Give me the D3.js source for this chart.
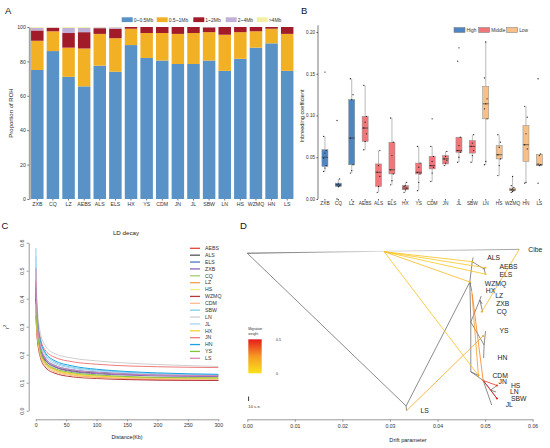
<!DOCTYPE html>
<html>
<head>
<meta charset="utf-8">
<title>ROH, inbreeding, LD decay and TreeMix</title>
<script src="https://d3js.org/d3.v7.min.js"></script>
<style>
  body { margin: 0; background: #fff; }
  svg { font-family: "Liberation Sans", Arial, sans-serif; }
</style>
</head>
<body>
<script>
// ---------- data ----------
var pops = ["ZXB","CQ","LZ","AEBS","ALS","ELS","HX","YS","CDM","JN","JL","SBW","LN","HS","WZMQ","HN","LS"];

// A: proportion of ROH by length class (%)
var rohKeys = ["0~0.5Mb","0.5~1Mb","1~2Mb","2~4Mb",">4Mb"];
var roh05  = [75,86,71,65.5,77.5,74,89.5,82,80.5,78.5,78.5,80.5,74.5,81.5,88,90.5,74.5];
var roh1   = [17,11.5,17,22,18.5,19.5,9.5,14.5,16,17.5,18,16.5,21,15.5,9.5,8.5,21.5];
var roh2   = [6,2,8.5,9.5,3.3,5.5,1,3.5,3.5,4,3.5,2.8,4.5,3,2.5,1,4];
var roh4   = [1.5,0.3,3,2.5,0.5,0.8,0,0,0,0,0,0.2,0,0,0,0,0];
var rohBig = [0.5,0.2,0.5,0.5,0.2,0.2,0,0,0,0,0,0,0,0,0,0,0];
var rohTicks = [0,20,40,60,80,100];

// B: inbreeding coefficient, box stats [min, q1, median, q3, max]
var fGroup = ["High","High","High","Middle","Middle","Middle","Middle","Middle","Middle","Middle","Middle","Middle","Low","Low","Low","Low","Low"];
var fStats = [
  [0.033,0.039,0.050,0.059,0.075],[0.013,0.015,0.017,0.019,0.024],[0.031,0.041,0.073,0.119,0.144],
  [0.059,0.069,0.085,0.099,0.136],[0.008,0.015,0.032,0.042,0.058],[0.017,0.030,0.035,0.068,0.097],
  [0.008,0.011,0.013,0.016,0.020],[0.010,0.030,0.032,0.043,0.063],[0.021,0.036,0.040,0.051,0.063],
  [0.040,0.042,0.048,0.052,0.057],[0.044,0.056,0.058,0.074,0.074],[0.044,0.055,0.063,0.070,0.077],
  [0.041,0.096,0.114,0.135,0.188],[0.028,0.048,0.053,0.064,0.077],[0.008,0.010,0.011,0.013,0.027],
  [0.019,0.045,0.065,0.088,0.111],[0.039,0.040,0.041,0.053,0.054]
];
var fPoints = [
  [0.033,0.037,0.040,0.049,0.055,0.058,0.075,0.152],[0.000,0.015,0.016,0.017,0.018,0.024,0.094],
  [0.031,0.034,0.041,0.073,0.119,0.125,0.144],[0.059,0.069,0.078,0.085,0.092,0.099,0.136],
  [0.008,0.015,0.027,0.032,0.040,0.058],[0.017,0.022,0.030,0.035,0.052,0.068,0.097],
  [0.008,0.011,0.013,0.015,0.016,0.020],[0.010,0.020,0.030,0.032,0.038,0.043,0.063],
  [0.021,0.031,0.038,0.040,0.045,0.051,0.063,0.096],[0.040,0.043,0.046,0.048,0.051,0.057],
  [0.044,0.050,0.056,0.058,0.064,0.074,0.165,0.181],[0.044,0.052,0.058,0.063,0.067,0.077],
  [0.041,0.045,0.096,0.108,0.114,0.120,0.145,0.188],[0.028,0.040,0.048,0.053,0.062,0.068,0.077],
  [0.008,0.009,0.010,0.011,0.012,0.014,0.016,0.027],[0.019,0.020,0.060,0.065,0.078,0.098,0.111],
  [0.019,0.040,0.041,0.042,0.052,0.054,0.144]
];
var fTicks = [0,0.05,0.10,0.15,0.20];
var fLevels = ["High","Middle","Low"];

// C: LD decay (r2 read at each distance)
var ldPops = ["AEBS","ALS","ELS","ZXB","CQ","LZ","HS","WZMQ","CDM","SBW","LN","JL","HX","JN","HN","YS","LS"];
var ldColors = ["#e8443a","#555555","#4c79c0","#8b62be","#a6d06c","#f6a24e","#f2ec7e","#b5383a","#f6be86","#7dd0e6","#cfcfcf","#a8d2f2","#f6cf3a","#f07c7c","#1ba3e0","#86c440","#d58bb8"];
var ldDist = [0.3,1,2,4,8,15,30,60,100,150,200,300];
var ldR2 = [
  [0.42,0.36,0.31,0.26,0.21,0.175,0.148,0.130,0.120,0.114,0.111,0.108],
  [0.40,0.35,0.31,0.26,0.215,0.182,0.158,0.142,0.135,0.130,0.128,0.125],
  [0.45,0.38,0.33,0.275,0.225,0.19,0.163,0.146,0.138,0.132,0.129,0.126],
  [0.47,0.39,0.33,0.27,0.22,0.185,0.158,0.140,0.132,0.127,0.124,0.122],
  [0.38,0.34,0.30,0.25,0.205,0.172,0.148,0.132,0.124,0.119,0.117,0.115],
  [0.36,0.33,0.29,0.245,0.20,0.168,0.145,0.129,0.122,0.118,0.116,0.115],
  [0.38,0.34,0.30,0.25,0.203,0.17,0.146,0.130,0.122,0.118,0.116,0.115],
  [0.34,0.31,0.27,0.23,0.188,0.157,0.135,0.121,0.115,0.111,0.109,0.108],
  [0.35,0.32,0.28,0.24,0.195,0.163,0.14,0.125,0.118,0.115,0.113,0.112],
  [0.58,0.45,0.37,0.30,0.245,0.205,0.175,0.155,0.145,0.137,0.132,0.128],
  [0.50,0.45,0.39,0.33,0.275,0.235,0.205,0.188,0.178,0.170,0.165,0.158],
  [0.55,0.44,0.36,0.295,0.24,0.20,0.17,0.152,0.142,0.135,0.130,0.127],
  [0.37,0.335,0.30,0.25,0.205,0.172,0.148,0.132,0.124,0.120,0.118,0.117],
  [0.46,0.41,0.36,0.305,0.255,0.218,0.192,0.175,0.166,0.160,0.157,0.154],
  [0.44,0.40,0.355,0.30,0.25,0.21,0.18,0.16,0.148,0.140,0.135,0.130],
  [0.39,0.35,0.31,0.26,0.21,0.176,0.152,0.136,0.128,0.122,0.119,0.117],
  [0.51,0.42,0.35,0.285,0.23,0.192,0.163,0.146,0.137,0.131,0.128,0.125]
];
var ldXTicks = [0,50,100,150,200,250,300];
var ldYTicks = [0,0.1,0.2,0.3,0.4,0.5,0.6];

// D: TreeMix tree (drift, vertical position 0-100)
var treeNames = ["root","Cibe","N1","LS","N2","A1","ALS","A2","AEBS","ELS","WZMQ","HX","T3","T4","LZ","ZXB","CQ","T5","YS","HN","N3","CDM","N4","JN","N5","HS","LN","SBW","JL"];
var treeDrift = [0,0.0572,0.0334,0.0335,0.0468,0.0473,0.0475,0.0498,0.0501,0.0501,0.0470,0.0472,0.0470,0.0489,0.0492,0.0494,0.0495,0.0498,0.0501,0.0497,0.0470,0.0486,0.0496,0.0499,0.0512,0.0525,0.0523,0.0525,0.0514];
var treePos = [2.6,0.2,96.6,99.5,20.3,7.8,5.2,12.3,11.1,15.7,21.5,25.8,44.9,31.4,28.9,33.8,38.8,59.1,50.5,67.1,75.5,77.8,80.9,81.5,86.8,84.0,88.0,92.0,96.0];
var treeEdges = [["root","N1"],["N1","LS"],["N1","N2"],["N2","A1"],["A1","ALS"],["A1","A2"],["A2","AEBS"],["A2","ELS"],
  ["N2","WZMQ"],["N2","HX"],["N2","T3"],["T3","T4"],["T4","LZ"],["T4","ZXB"],["T4","CQ"],["T3","T5"],["T5","YS"],["T5","HN"],
  ["T3","N3"],["N3","CDM"],["N3","N4"],["N4","JN"],["N4","N5"],["N5","HS"],["N5","LN"],["N5","SBW"],["N4","JL"]];
var treeLeaves = ["Cibe","ALS","AEBS","ELS","WZMQ","HX","LZ","ZXB","CQ","YS","HN","CDM","JN","HS","LN","SBW","JL","LS"];
var migFromDrift = [0.0288,0.0288,0.0288,0.0288,0.0288,0.0572,0.0335,0.0472,0.0473,0.0496,0.0496];
var migFromPos   = [1.7,1.7,1.7,1.7,1.7,0.2,99.5,25.8,27.5,80.9,80.9];
var migToDrift   = [0.0473,0.0501,0.0501,0.0468,0.0486,0.0493,0.0496,0.0486,0.0496,0.0525,0.0525];
var migToPos     = [7.8,11.5,15.5,20.3,77.8,38.6,53.5,77.8,80.9,84.0,92.0];
var migWeight    = [0.12,0.10,0.10,0.15,0.12,0.15,0.22,0.25,0.30,0.45,0.50];
var driftTicks = [0,0.01,0.02,0.03,0.04,0.05,0.06];

// ---------- drawing ----------
var svg = d3.select("body").append("svg").attr("width", 550).attr("height", 448);
svg.append("rect").attr("width", 550).attr("height", 448).attr("fill", "#fff");

function letter(t, x, y) {
  svg.append("text").attr("x", x).attr("y", y).attr("font-size", 9.5).attr("fill", "#111").text(t);
}
function vlabel(g, t, x, y, fs) {
  return g.append("text").attr("transform", "translate(" + [x, y] + ") rotate(-90)")
    .attr("text-anchor", "middle").attr("font-size", fs).attr("fill", "#222").text(t);
}

// ===== A =====
letter("A", 5, 13.5);
var gA = svg.append("g");
var xA = d3.scaleBand(pops, [29.5, 295]).paddingInner(0.2).paddingOuter(0.1);
var yA = d3.scaleLinear([0, 100], [199, 27]);
var rohColors = d3.scaleOrdinal(rohKeys, ["#5892c6","#f2b125","#a11b29","#c0b1d9","#f4f0a2"]);
var rohRows = pops.map(function(p, i) {
  return {pop: p, "0~0.5Mb": roh05[i], "0.5~1Mb": roh1[i], "1~2Mb": roh2[i], "2~4Mb": roh4[i], ">4Mb": rohBig[i]};
});
var stackA = d3.stack().keys(rohKeys)(rohRows);

gA.selectAll("g.layer").data(stackA).join("g").attr("class", "layer")
  .attr("fill", function(d) { return rohColors(d.key); })
  .selectAll("rect").data(function(d) { return d; }).join("rect")
  .attr("x", function(d) { return xA(d.data.pop); })
  .attr("width", xA.bandwidth())
  .attr("y", function(d) { return yA(d[1]); })
  .attr("height", function(d) { return yA(d[0]) - yA(d[1]); });

var axA = gA.append("g").attr("transform", "translate(29.3,0)")
  .call(d3.axisLeft(yA).tickValues(rohTicks).tickSize(2).tickSizeOuter(0).tickPadding(1.5));
axA.select(".domain").attr("stroke", "#a3a3a3").attr("stroke-width", 2);
axA.selectAll(".tick line").attr("stroke", "#777");
axA.selectAll("text").attr("font-size", 5.2).attr("fill", "#333");

var axAx = gA.append("g").attr("transform", "translate(0,199)")
  .call(d3.axisBottom(xA).tickSize(1.5).tickPadding(1.5));
axAx.select(".domain").remove();
axAx.selectAll(".tick line").attr("stroke", "#777");
axAx.selectAll("text").attr("font-size", 5.2).attr("fill", "#333");
vlabel(gA, "Proportion of ROH", 12.5, 113, 6);

var legA = gA.append("g");
var legAx = [121.7, 156.7, 193.3, 225.7, 256.7];
rohKeys.forEach(function(k, i) {
  legA.append("rect").attr("x", legAx[i]).attr("y", 17.3).attr("width", 11).attr("height", 4.8).attr("fill", rohColors(k));
  legA.append("text").attr("x", legAx[i] + 12).attr("y", 21.6).attr("font-size", 5).attr("fill", "#333").text(k);
});

// ===== B =====
letter("B", 301, 13.5);
var gB = svg.append("g");
var xB = d3.scaleBand(pops, [318.3, 546]).paddingInner(0.55).paddingOuter(0.27);
var yB = d3.scaleLinear([0, 0.2], [199, 32]);
var fColor = d3.scaleOrdinal(fLevels, ["#4e86c3", "#f07679", "#f8c089"]);

var axB = gB.append("g").attr("transform", "translate(318,0)")
  .call(d3.axisLeft(yB).tickValues(fTicks).tickFormat(d3.format(".2f")).tickSize(1.5).tickSizeOuter(0).tickPadding(1.5));
axB.select(".domain").attr("d", "M0," + yB(0.208) + "V" + yB(0)).attr("stroke", "#555").attr("stroke-width", 0.8);
axB.selectAll(".tick line").attr("stroke", "#555");
axB.selectAll("text").attr("font-size", 4.6).attr("fill", "#333");
var axBx = gB.append("g").attr("transform", "translate(0,199)")
  .call(d3.axisBottom(xB).tickSize(1.5).tickPadding(1.5));
axBx.select(".domain").remove();
axBx.selectAll(".tick line").attr("stroke", "#555");
axBx.selectAll("text").attr("font-size", 4.8).attr("fill", "#333");
vlabel(gB, "Inbreeding coefficient", 303.5, 116, 5.6);

var boxes = gB.selectAll("g.box").data(pops).join("g").attr("class", "box");
boxes.append("line")
  .attr("x1", function(d) { return xB(d) + xB.bandwidth() / 2; })
  .attr("x2", function(d) { return xB(d) + xB.bandwidth() / 2; })
  .attr("y1", function(d, i) { return yB(fStats[i][4]); })
  .attr("y2", function(d, i) { return yB(fStats[i][0]); })
  .attr("stroke", "#8a8a8a").attr("stroke-width", 0.6);
boxes.append("rect")
  .attr("x", function(d) { return xB(d); })
  .attr("width", xB.bandwidth())
  .attr("y", function(d, i) { return yB(fStats[i][3]); })
  .attr("height", function(d, i) { return Math.max(0.5, yB(fStats[i][1]) - yB(fStats[i][3])); })
  .attr("fill", function(d, i) { return fColor(fGroup[i]); })
  .attr("stroke", "#8a8a8a").attr("stroke-width", 0.5);
boxes.append("line")
  .attr("x1", function(d) { return xB(d); })
  .attr("x2", function(d) { return xB(d) + xB.bandwidth(); })
  .attr("y1", function(d, i) { return yB(fStats[i][2]); })
  .attr("y2", function(d, i) { return yB(fStats[i][2]); })
  .attr("stroke", "#333").attr("stroke-width", 0.7);
boxes.each(function(p, i) {
  d3.select(this).selectAll("circle").data(fPoints[i]).join("circle")
    .attr("cx", function(v, j) { return xB(p) + xB.bandwidth() / 2 + ((j % 3) - 1) * 1.3; })
    .attr("cy", function(v) { return yB(v); })
    .attr("r", 0.65).attr("fill", "#222");
});

var legBx = [454, 478.7, 506.7];
fLevels.forEach(function(k, i) {
  gB.append("rect").attr("x", legBx[i]).attr("y", 27.5).attr("width", 11).attr("height", 5)
    .attr("fill", fColor(k)).attr("stroke", "#777").attr("stroke-width", 0.5);
  gB.append("text").attr("x", legBx[i] + 12.5).attr("y", 31.7).attr("font-size", 4.8).attr("fill", "#333").text(k);
});

// ===== C =====
letter("C", 1.5, 228.5);
var gC = svg.append("g");
var xC = d3.scaleLinear([0, 300], [35.7, 218.3]);
var yC = d3.scaleLinear([0, 0.6], [410.7, 242.7]);

var axCy = gC.append("g").attr("transform", "translate(28.7,0)")
  .call(d3.axisLeft(yC).tickValues(ldYTicks).tickFormat(d3.format(".1f")).tickSize(2).tickSizeOuter(0));
axCy.select(".domain").attr("stroke", "#999").attr("stroke-width", 1);
axCy.selectAll(".tick line").attr("stroke", "#999");
// R style: y tick labels run parallel to the axis
axCy.selectAll(".tick text").attr("font-size", 5.2).attr("fill", "#333")
  .attr("x", 0).attr("dy", 0).attr("text-anchor", "middle")
  .attr("transform", "translate(-5,0) rotate(-90)");

var axCx = gC.append("g").attr("transform", "translate(0,419.3)")
  .call(d3.axisBottom(xC).tickValues(ldXTicks).tickSize(2).tickSizeOuter(0).tickPadding(2));
axCx.select(".domain").attr("stroke", "#999").attr("stroke-width", 1);
axCx.selectAll(".tick line").attr("stroke", "#999");
axCx.selectAll("text").attr("font-size", 5.2).attr("fill", "#333");

gC.append("text").attr("x", 126).attr("y", 235).attr("text-anchor", "middle").attr("font-size", 6.2).attr("fill", "#222").text("LD decay");
gC.append("text").attr("x", 127).attr("y", 438.5).attr("text-anchor", "middle").attr("font-size", 5.4).attr("fill", "#222").text("Distance(Kb)");
var r2lab = gC.append("text").attr("transform", "translate(8.5,327) rotate(-90)").attr("text-anchor", "middle")
  .attr("font-size", 6).attr("fill", "#222").text("r");
r2lab.append("tspan").attr("font-size", 4).attr("dy", -2.2).text("2");

var ldLine = d3.line()
  .x(function(d, i) { return xC(ldDist[i]); })
  .y(function(d) { return yC(d); })
  .curve(d3.curveMonotoneX);
gC.selectAll("path.ld").data(ldR2).join("path").attr("class", "ld")
  .attr("d", ldLine).attr("fill", "none")
  .attr("stroke", function(d, i) { return ldColors[i]; })
  .attr("stroke-width", 1);

var legC = gC.append("g");
ldPops.forEach(function(p, i) {
  var y = 248.3 + i * 6.875;
  legC.append("line").attr("x1", 190).attr("x2", 200).attr("y1", y).attr("y2", y)
    .attr("stroke", ldColors[i]).attr("stroke-width", 1.3);
  legC.append("text").attr("x", 205).attr("y", y + 1.8).attr("font-size", 5.2).attr("fill", "#333").text(p);
});

// ===== D =====
letter("D", 240, 228.5);
var gD = svg.append("g");
var xD = d3.scaleLinear([0, 0.06], [247.3, 532.6]);
var yD = d3.scaleLinear([0, 100], [249, 411.5]);
var migColor = d3.scaleLinear([0, 0.25, 0.5], ["#f9e21b", "#f59b24", "#e51b1c"]);
var idx = {};
treeNames.forEach(function(n, i) { idx[n] = i; });
function nx(n) { return xD(treeDrift[idx[n]]); }
function ny(n) { return yD(treePos[idx[n]]); }

var defs = svg.append("defs");
var gr = defs.append("linearGradient").attr("id", "rootCibe").attr("gradientUnits", "userSpaceOnUse")
  .attr("x1", nx("root")).attr("x2", nx("Cibe")).attr("y1", 0).attr("y2", 0);
gr.append("stop").attr("offset", 0).attr("stop-color", "#333");
gr.append("stop").attr("offset", 0.5).attr("stop-color", "#d8d8d8");
gr.append("stop").attr("offset", 1).attr("stop-color", "#888");
var gw = defs.append("linearGradient").attr("id", "migScale").attr("x1", 0).attr("x2", 0).attr("y1", 0).attr("y2", 1);
gw.append("stop").attr("offset", 0).attr("stop-color", migColor(0.5));
gw.append("stop").attr("offset", 0.5).attr("stop-color", migColor(0.25));
gw.append("stop").attr("offset", 1).attr("stop-color", migColor(0));

gD.append("line").attr("x1", nx("root")).attr("y1", ny("root")).attr("x2", nx("Cibe")).attr("y2", ny("Cibe"))
  .attr("stroke", "url(#rootCibe)").attr("stroke-width", 0.8);
gD.selectAll("line.edge").data(treeEdges).join("line").attr("class", "edge")
  .attr("x1", function(e) { return nx(e[0]); }).attr("y1", function(e) { return ny(e[0]); })
  .attr("x2", function(e) { return nx(e[1]); }).attr("y2", function(e) { return ny(e[1]); })
  .attr("stroke", "#5a5a5a").attr("stroke-width", 0.7);

gD.selectAll("line.mig").data(migWeight).join("line").attr("class", "mig")
  .attr("x1", function(w, i) { return xD(migFromDrift[i]); }).attr("y1", function(w, i) { return yD(migFromPos[i]); })
  .attr("x2", function(w, i) { return xD(migToDrift[i]); }).attr("y2", function(w, i) { return yD(migToPos[i]); })
  .attr("stroke", function(w) { return migColor(w); }).attr("stroke-width", 0.8);
gD.selectAll("circle.mig").data(migWeight).join("circle").attr("class", "mig")
  .attr("cx", function(w, i) { return xD(migToDrift[i]); }).attr("cy", function(w, i) { return yD(migToPos[i]); })
  .attr("r", 1).attr("fill", function(w) { return migColor(w); });

gD.selectAll("text.leaf").data(treeLeaves).join("text").attr("class", "leaf")
  .attr("x", function(n) { return nx(n) + (n === "Cibe" ? 9 : 14); })
  .attr("y", function(n) { return ny(n) + 2.4; })
  .attr("font-size", 6.8).attr("fill", "#222").text(function(n) { return n; });

var axD = gD.append("g").attr("transform", "translate(0,419.3)")
  .call(d3.axisBottom(xD).tickValues(driftTicks).tickFormat(d3.format(".2f")).tickSize(2.5).tickSizeOuter(0).tickPadding(3));
axD.select(".domain").attr("stroke", "#999").attr("stroke-width", 1);
axD.selectAll(".tick line").attr("stroke", "#999");
axD.selectAll("text").attr("font-size", 5.2).attr("fill", "#333");
gD.append("text").attr("x", 408).attr("y", 442).attr("text-anchor", "middle").attr("font-size", 5.6).attr("fill", "#222").text("Drift parameter");

gD.append("text").attr("x", 248.3).attr("y", 329.5).attr("font-size", 3.4).attr("fill", "#333").text("Migration");
gD.append("text").attr("x", 248.3).attr("y", 334.5).attr("font-size", 3.4).attr("fill", "#333").text("weight");
gD.append("rect").attr("x", 248.3).attr("y", 339.3).attr("width", 13.4).attr("height", 34).attr("fill", "url(#migScale)");
gD.append("text").attr("x", 276).attr("y", 341).attr("font-size", 3.6).attr("fill", "#333").text("0.5");
gD.append("text").attr("x", 276).attr("y", 375).attr("font-size", 3.6).attr("fill", "#333").text("0");
gD.append("line").attr("x1", 248.6).attr("x2", 248.6).attr("y1", 396.5).attr("y2", 401).attr("stroke", "#222").attr("stroke-width", 0.9);
gD.append("text").attr("x", 248.3).attr("y", 408).attr("font-size", 4.2).attr("fill", "#333").text("10 s.e.");
</script>
</body>
</html>
